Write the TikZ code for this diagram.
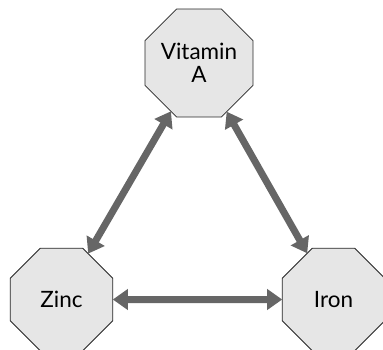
\documentclass[tikz,border=0pt]{standalone}
\usepackage{fontspec}
\setmainfont{Lato}
\usetikzlibrary{shapes.geometric,arrows.meta}
\definecolor{nodefill}{HTML}{E6E6E6}
\definecolor{linkgray}{HTML}{666666}
\tikzset{
  nutrient/.style={regular polygon, regular polygon sides=8, minimum size=111pt,
    inner sep=0pt, outer sep=0pt, draw=black!85, line width=0.8pt, fill=nodefill,
    align=center, font=\fontsize{22.5}{23}\selectfont},
  link/.style={draw=linkgray, line width=7pt,
    {Triangle[length=15pt,width=20pt]}-{Triangle[length=15pt,width=20pt]}}
}
\begin{document}
\begin{tikzpicture}[x=1pt,y=-1pt]
  \useasboundingbox (0,0) rectangle (383,349);
  \node[nutrient] (va) at (199,63) {Vitamin\\A};
  \node[nutrient] (zn) at (61.5,299.5) {Zinc};
  \node[nutrient] (fe) at (333.5,299.5) {Iron};
  \draw[link] (va) -- (zn);
  \draw[link] (va) -- (fe);
  \draw[link] (zn) -- (fe);
\end{tikzpicture}
\end{document}
